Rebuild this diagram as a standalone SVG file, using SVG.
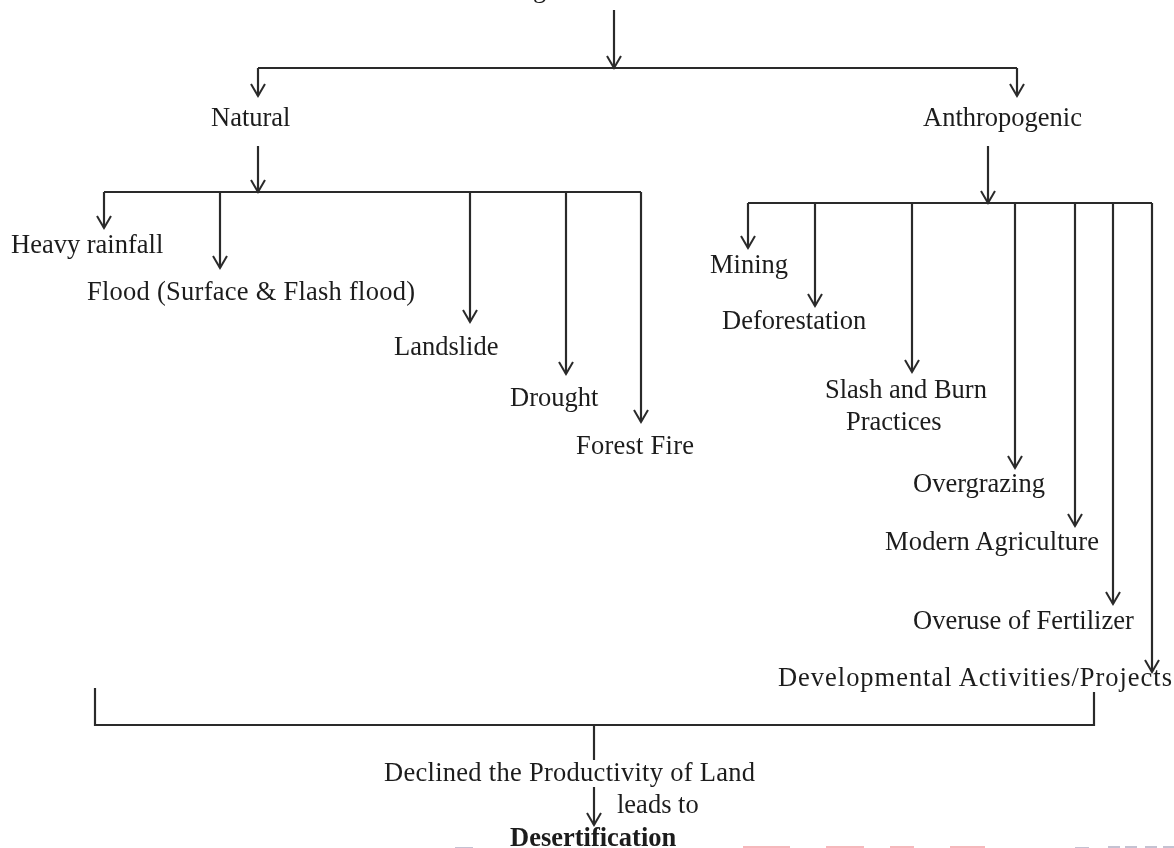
<svg xmlns="http://www.w3.org/2000/svg" width="1174" height="848" viewBox="0 0 1174 848">
<defs>
<marker id="arr" markerUnits="userSpaceOnUse" markerWidth="20" markerHeight="16" refX="14" refY="8" orient="auto"><path d="M2 1 L14 8 L2 15" fill="none" stroke="#2a2a2a" stroke-width="2"/></marker>
<filter id="soft" x="-5%" y="-5%" width="110%" height="110%"><feGaussianBlur stdDeviation="0.55"/></filter>
</defs>
<style>
text{font-family:"Liberation Serif","Times New Roman",serif;font-size:26.5px;fill:#1c1c1c}
.c path{fill:none;stroke:#2a2a2a;stroke-width:2.2}
.a{marker-end:url(#arr)}
.p{fill:#f6b8bc}
.g{fill:#c4c2d2}
</style>
<rect width="1174" height="848" fill="#fff"/>
<g id="edge-fragments">
<rect class="g" x="455" y="847" width="18" height="1"/>
<rect class="p" x="743" y="846" width="47" height="2"/>
<rect class="p" x="826" y="846" width="38" height="2"/>
<rect class="p" x="890" y="846" width="24" height="2"/>
<rect class="p" x="950" y="846" width="35" height="2"/>
<rect class="g" x="1075" y="847" width="14" height="1"/>
<rect class="g" x="1108" y="846" width="12" height="2"/>
<rect class="g" x="1125" y="846" width="12" height="2"/>
<rect class="g" x="1145" y="846" width="12" height="2"/>
<rect class="g" x="1163" y="846" width="11" height="2"/>
</g>
<g filter="url(#soft)">
<g class="c" id="connectors">
<path class="a" d="M614 10V68"/>
<path d="M258 68H1017"/>
<path class="a" d="M258 68V96"/>
<path class="a" d="M1017 68V96"/>
<path class="a" d="M258 146V192"/>
<path d="M104 192H641"/>
<path class="a" d="M104 192V228"/>
<path class="a" d="M220 192V268"/>
<path class="a" d="M470 192V322"/>
<path class="a" d="M566 192V374"/>
<path class="a" d="M641 192V422"/>
<path class="a" d="M988 146V203"/>
<path d="M748 203H1152"/>
<path class="a" d="M748 203V248"/>
<path class="a" d="M815 203V306"/>
<path class="a" d="M912 203V372"/>
<path class="a" d="M1015 203V468"/>
<path class="a" d="M1075 203V526"/>
<path class="a" d="M1113 203V604"/>
<path class="a" d="M1152 203V672"/>
<path d="M95 688V725H1094V692"/>
<path d="M594 725V760"/>
<path class="a" d="M594 787V825"/>
</g>
<g id="n-top"><text x="533" y="-3">g</text></g>
<g id="n-natural"><text x="211" y="126">Natural</text></g>
<g id="n-anthropogenic"><text x="923" y="126">Anthropogenic</text></g>
<g id="n-heavy-rainfall"><text x="11" y="253">Heavy rainfall</text></g>
<g id="n-flood"><text x="87" y="300" textLength="328">Flood (Surface &amp; Flash flood)</text></g>
<g id="n-landslide"><text x="394" y="355">Landslide</text></g>
<g id="n-drought"><text x="510" y="406">Drought</text></g>
<g id="n-forest-fire"><text x="576" y="454" textLength="118">Forest Fire</text></g>
<g id="n-mining"><text x="710" y="273">Mining</text></g>
<g id="n-deforestation"><text x="722" y="329">Deforestation</text></g>
<g id="n-slash"><text x="825" y="398">Slash and Burn</text><text x="846" y="430">Practices</text></g>
<g id="n-overgrazing"><text x="913" y="492">Overgrazing</text></g>
<g id="n-modern-agriculture"><text x="885" y="550" textLength="214">Modern Agriculture</text></g>
<g id="n-overuse"><text x="913" y="629">Overuse of Fertilizer</text></g>
<g id="n-developmental"><text x="778" y="686" textLength="394">Developmental Activities/Projects</text></g>
<g id="n-declined"><text x="384" y="781" textLength="371">Declined the Productivity of Land</text></g>
<g id="n-leads-to"><text x="617" y="813">leads to</text></g>
<g id="n-desertification"><text x="510" y="846" style="font-weight:bold">Desertification</text></g>
</g>
</svg>
